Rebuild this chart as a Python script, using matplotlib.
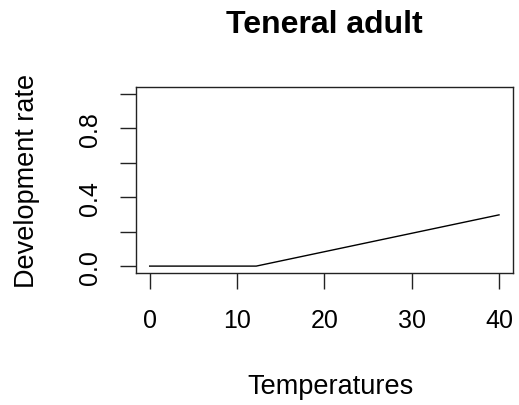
import matplotlib
matplotlib.use("Agg")
import matplotlib.pyplot as plt

temperatures = [0, 12.2, 40]
dev_rate = [0.0, 0.0, 0.297]
x_ticks = [0, 10, 20, 30, 40]
y_ticks = [0.0, 0.2, 0.4, 0.6, 0.8, 1.0]
y_tick_labels = ["0.0", "", "0.4", "", "0.8", ""]

plt.rcParams['font.family'] = ['Liberation Sans', 'DejaVu Sans']

W, H = 519, 406
fig = plt.figure(figsize=(W / 100, H / 100), dpi=100)
ax = fig.add_axes([135.7 / W, 1 - 274 / H, (513 - 135.7) / W, (274 - 87.7) / H])

ax.plot(temperatures, dev_rate, color='black', linewidth=1.0)
ax.set_xlim(-1.6, 41.6)
ax.set_ylim(-0.04, 1.04)

ax.set_xticks(x_ticks)
ax.set_xticklabels([str(t) for t in x_ticks])
ax.set_yticks(y_ticks)
ax.set_yticklabels(y_tick_labels, rotation=90, va='center')

for s in ax.spines.values():
    s.set_linewidth(1.0)
    s.set_color('#222222')

ax.tick_params(axis='both', labelsize=18, length=11.5, width=1.0, color='#222222')
ax.tick_params(axis='x', pad=14)
ax.tick_params(axis='y', pad=13)

fig.text(324 / W, 1 - 33 / H, "Teneral adult", ha='center', va='baseline',
         fontsize=23, fontweight='bold')
fig.text(330 / W, 1 - 394 / H, "Temperatures", ha='center', va='baseline', fontsize=19.5)
fig.text(34 / W, 1 - 181 / H, "Development rate", ha='center', va='baseline',
         fontsize=19.5, rotation=90, rotation_mode='anchor')

fig.savefig("out.png", dpi=100)
